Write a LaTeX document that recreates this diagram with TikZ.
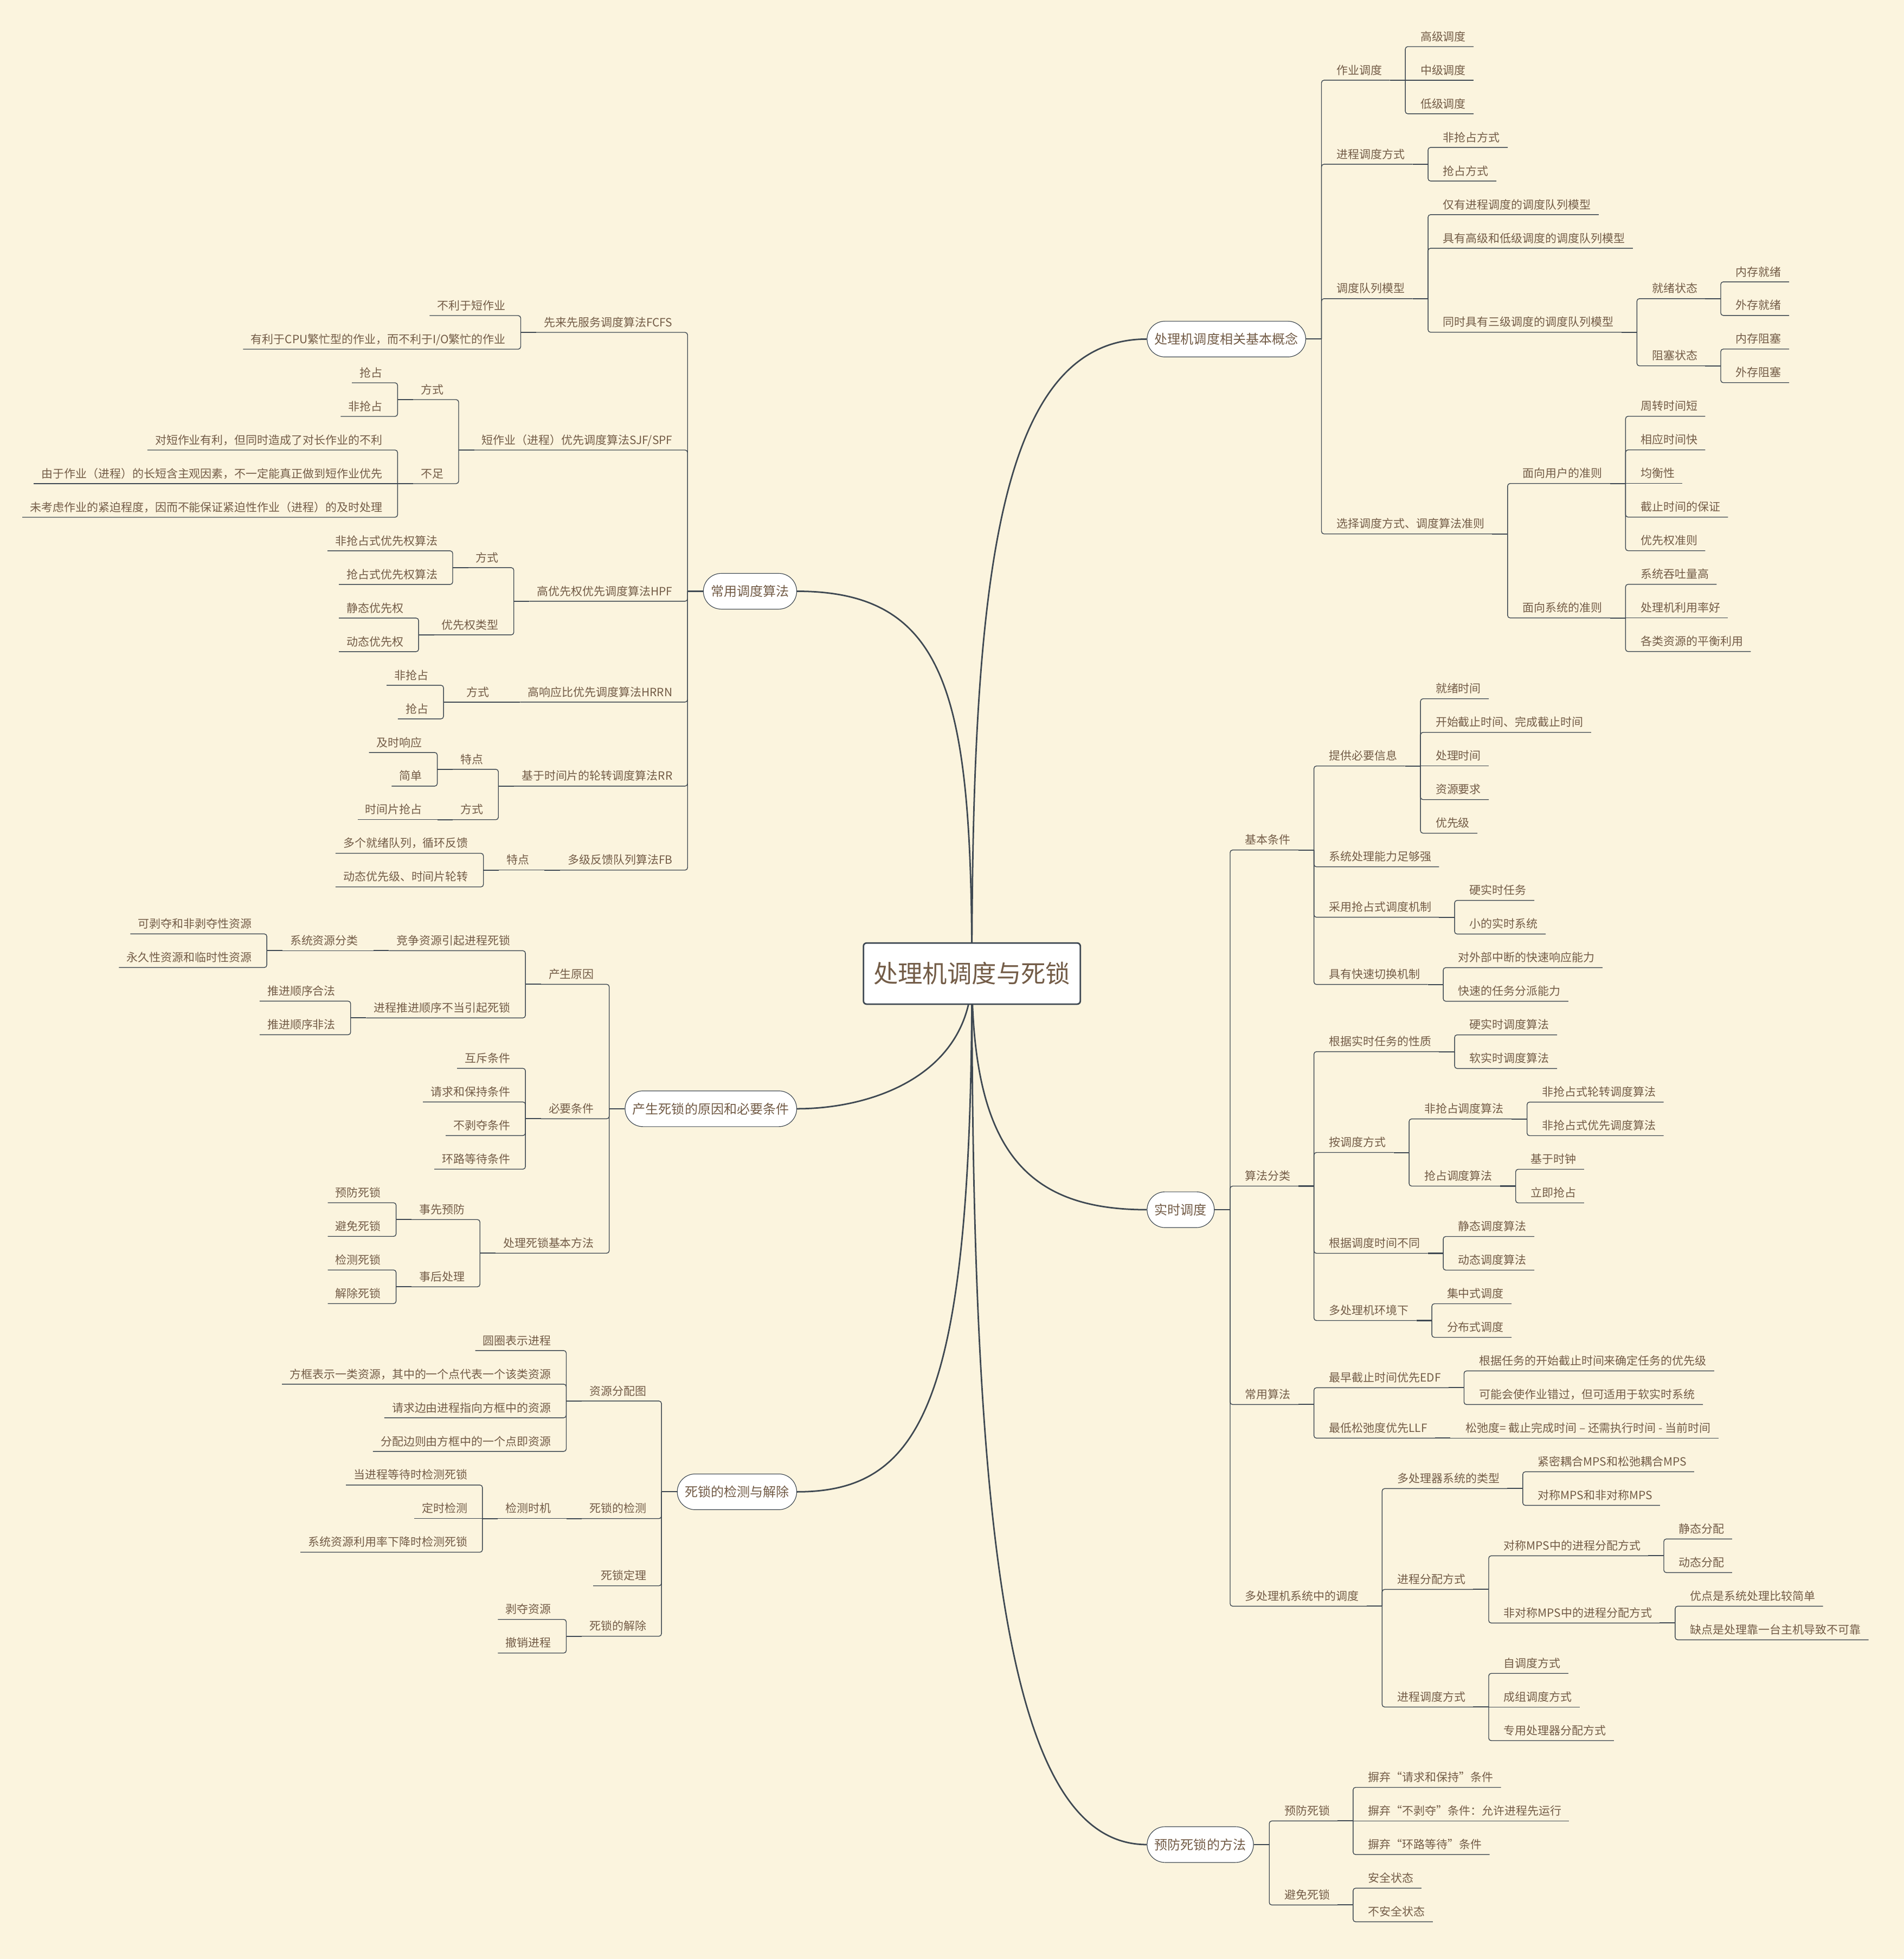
\documentclass[tikz,border=0pt]{standalone}
\usepackage{fontspec}
\newfontfamily\cjk{Noto Sans CJK SC}
\usetikzlibrary{calc}
\definecolor{bgc}{RGB}{251,244,222}
\definecolor{txt}{RGB}{115,92,71}
\definecolor{lin}{RGB}{62,72,82}
\pgfdeclarelayer{bglayer}
\pgfdeclarelayer{edgelayer}
\pgfsetlayers{bglayer,edgelayer,main}
\newcommand\bse{0}
\newcommand\setbase[1]{\renewcommand\bse{#1}}
% right-side topic: name, parent anchor, row, text
\newcommand\rnode[4]{%
  \path let \p1=(#2) in node[tr] (#1) at ({\x1+12.4pt},{-(\bse+26.9*(#3)+8)*1pt}) {#4};
  \draw[stub] (#2) -- (#2 -| #1.south west);
  \draw[conn] (#2 -| #1.south west) |- (#1.south east);}
\newcommand\rnodes[4]{%
  \path let \p1=(#2) in node[tr] (#1) at ({\x1+12.4pt},{-(\bse+26.9*(#3)+8)*1pt}) {#4};
  \draw[stub] (#2) -- (#2 -| #1.south west);
  \draw[conn] (#2 -| #1.south west) -- (#1.south east);}
% left-side topic
\newcommand\lnode[4]{%
  \path let \p1=(#2) in node[tl] (#1) at ({\x1-12.4pt},{-(\bse+26.9*(#3)+8)*1pt}) {#4};
  \draw[stub] (#2) -- (#2 -| #1.south east);
  \draw[conn] (#2 -| #1.south east) |- (#1.south west);}
\newcommand\lnodes[4]{%
  \path let \p1=(#2) in node[tl] (#1) at ({\x1-12.4pt},{-(\bse+26.9*(#3)+8)*1pt}) {#4};
  \draw[stub] (#2) -- (#2 -| #1.south east);
  \draw[conn] (#2 -| #1.south east) -- (#1.south west);}
\tikzset{
  tbase/.style={font=\cjk\fontsize{9.1}{11}\selectfont, text=txt, inner xsep=0pt, inner ysep=4.5pt, text height=7pt, text depth=0pt},
  tr/.style={tbase, anchor=south west, execute at begin node={\hspace*{11.9pt}}, execute at end node={\hspace*{6pt}}},
  tl/.style={tbase, anchor=south east, execute at begin node={\hspace*{6pt}}, execute at end node={\hspace*{11.9pt}}},
  pill/.style={font=\cjk\fontsize{10.45}{12}\selectfont, text=txt, fill=white, draw=lin, line width=0.5pt, rounded corners=14.3pt, minimum height=28.6pt, inner xsep=6pt, inner ysep=0pt, text height=8pt, text depth=0pt},
  rootnode/.style={font=\cjk\fontsize{19.7}{22}\selectfont, text=txt, fill=white, draw=lin, line width=1.2pt, rounded corners=2.5pt, minimum height=48.9pt, inner xsep=8pt, inner ysep=0pt, text height=15pt, text depth=0pt},
  conn/.style={draw=lin, line width=0.6pt, rounded corners=2pt},
  stub/.style={draw=lin, line width=0.9pt},
  mainline/.style={draw=lin, line width=1.2pt}
}
\begin{document}
\begin{tikzpicture}[x=1pt,y=-1pt]
\useasboundingbox (0,0) rectangle (1524,1568);
\begin{pgfonlayer}{bglayer}
\fill[bgc] (0,0) rectangle (1524,1568);
\end{pgfonlayer}

\node[rootnode] (root) at (778,779.25) {处理机调度与死锁};
\node[pill, anchor=west] (pA) at (918,271.4) {处理机调度相关基本概念};
\node[pill, anchor=west] (pB) at (918,968.25) {实时调度};
\node[pill, anchor=west] (pC) at (918,1476.4) {预防死锁的方法};
\node[pill, anchor=east] (pD) at (638,473.25) {常用调度算法};
\node[pill, anchor=east] (pE) at (638,887.45) {产生死锁的原因和必要条件};
\node[pill, anchor=east] (pF) at (638,1194.05) {死锁的检测与解除};

\begin{pgfonlayer}{edgelayer}
\draw[mainline] (root.center) .. controls +(0,-320) and +(-118,0) .. (pA.west);
\draw[mainline] (root.center) .. controls +(0,140) and +(-98,0) .. (pB.west);
\draw[mainline] (root.center) .. controls +(0,470) and +(-108,0) .. (pC.west);
\draw[mainline] (root.center) .. controls +(0,-220) and +(122,0) .. (pD.east);
\draw[mainline] (root.center) .. controls +(0,80) and +(62,0) .. (pE.east);
\draw[mainline] (root.center) .. controls +(0,340) and +(102,0) .. (pF.east);
\end{pgfonlayer}

% ---------- A ----------
\setbase{29.3}
\rnode{a1}{pA.east}{1}{作业调度}
\rnode{a2}{pA.east}{3.5}{进程调度方式}
\rnode{a3}{pA.east}{7.5}{调度队列模型}
\rnode{a4}{pA.east}{14.5}{选择调度方式、调度算法准则}
\rnode{a11}{a1.south east}{0}{高级调度}
\rnodes{a12}{a1.south east}{1}{中级调度}
\rnode{a13}{a1.south east}{2}{低级调度}
\rnode{a21}{a2.south east}{3}{非抢占方式}
\rnode{a22}{a2.south east}{4}{抢占方式}
\rnode{a31}{a3.south east}{5}{仅有进程调度的调度队列模型}
\rnode{a32}{a3.south east}{6}{具有高级和低级调度的调度队列模型}
\rnode{a33}{a3.south east}{8.5}{同时具有三级调度的调度队列模型}
\rnode{a331}{a33.south east}{7.5}{就绪状态}
\rnode{a332}{a33.south east}{9.5}{阻塞状态}
\rnode{a3311}{a331.south east}{7}{内存就绪}
\rnode{a3312}{a331.south east}{8}{外存就绪}
\rnode{a3321}{a332.south east}{9}{内存阻塞}
\rnode{a3322}{a332.south east}{10}{外存阻塞}
\rnode{a41}{a4.south east}{13}{面向用户的准则}
\rnode{a42}{a4.south east}{17}{面向系统的准则}
\rnode{a411}{a41.south east}{11}{周转时间短}
\rnode{a412}{a41.south east}{12}{相应时间快}
\rnodes{a413}{a41.south east}{13}{均衡性}
\rnode{a414}{a41.south east}{14}{截止时间的保证}
\rnode{a415}{a41.south east}{15}{优先权准则}
\rnode{a421}{a42.south east}{16}{系统吞吐量高}
\rnodes{a422}{a42.south east}{17}{处理机利用率好}
\rnode{a423}{a42.south east}{18}{各类资源的平衡利用}

% ---------- B ----------
\setbase{551.3}
\rnode{b1}{pB.east}{4.5}{基本条件}
\rnode{b2}{pB.east}{14.5}{算法分类}
\rnode{b3}{pB.east}{21}{常用算法}
\rnode{b4}{pB.east}{27}{多处理机系统中的调度}
\rnode{b11}{b1.south east}{2}{提供必要信息}
\rnode{b12}{b1.south east}{5}{系统处理能力足够强}
\rnode{b13}{b1.south east}{6.5}{采用抢占式调度机制}
\rnode{b14}{b1.south east}{8.5}{具有快速切换机制}
\rnode{b111}{b11.south east}{0}{就绪时间}
\rnode{b112}{b11.south east}{1}{开始截止时间、完成截止时间}
\rnodes{b113}{b11.south east}{2}{处理时间}
\rnode{b114}{b11.south east}{3}{资源要求}
\rnode{b115}{b11.south east}{4}{优先级}
\rnode{b131}{b13.south east}{6}{硬实时任务}
\rnode{b132}{b13.south east}{7}{小的实时系统}
\rnode{b141}{b14.south east}{8}{对外部中断的快速响应能力}
\rnode{b142}{b14.south east}{9}{快速的任务分派能力}
\rnode{b21}{b2.south east}{10.5}{根据实时任务的性质}
\rnode{b22}{b2.south east}{13.5}{按调度方式}
\rnode{b23}{b2.south east}{16.5}{根据调度时间不同}
\rnode{b24}{b2.south east}{18.5}{多处理机环境下}
\rnode{b211}{b21.south east}{10}{硬实时调度算法}
\rnode{b212}{b21.south east}{11}{软实时调度算法}
\rnode{b221}{b22.south east}{12.5}{非抢占调度算法}
\rnode{b222}{b22.south east}{14.5}{抢占调度算法}
\rnode{b2211}{b221.south east}{12}{非抢占式轮转调度算法}
\rnode{b2212}{b221.south east}{13}{非抢占式优先调度算法}
\rnode{b2221}{b222.south east}{14}{基于时钟}
\rnode{b2222}{b222.south east}{15}{立即抢占}
\rnode{b231}{b23.south east}{16}{静态调度算法}
\rnode{b232}{b23.south east}{17}{动态调度算法}
\rnode{b241}{b24.south east}{18}{集中式调度}
\rnode{b242}{b24.south east}{19}{分布式调度}
\rnode{b31}{b3.south east}{20.5}{最早截止时间优先EDF}
\rnode{b32}{b3.south east}{22}{最低松弛度优先LLF}
\rnode{b311}{b31.south east}{20}{根据任务的开始截止时间来确定任务的优先级}
\rnode{b312}{b31.south east}{21}{可能会使作业错过，但可适用于软实时系统}
\rnodes{b321}{b32.south east}{22}{松弛度= 截止完成时间 – 还需执行时间 - 当前时间}
\rnode{b41}{b4.south east}{23.5}{多处理器系统的类型}
\rnode{b42}{b4.south east}{26.5}{进程分配方式}
\rnode{b43}{b4.south east}{30}{进程调度方式}
\rnode{b411}{b41.south east}{23}{紧密耦合MPS和松弛耦合MPS}
\rnode{b412}{b41.south east}{24}{对称MPS和非对称MPS}
\rnode{b421}{b42.south east}{25.5}{对称MPS中的进程分配方式}
\rnode{b422}{b42.south east}{27.5}{非对称MPS中的进程分配方式}
\rnode{b4211}{b421.south east}{25}{静态分配}
\rnode{b4212}{b421.south east}{26}{动态分配}
\rnode{b4221}{b422.south east}{27}{优点是系统处理比较简单}
\rnode{b4222}{b422.south east}{28}{缺点是处理靠一台主机导致不可靠}
\rnode{b431}{b43.south east}{29}{自调度方式}
\rnodes{b432}{b43.south east}{30}{成组调度方式}
\rnode{b433}{b43.south east}{31}{专用处理器分配方式}

% ---------- C ----------
\setbase{1422.6}
\rnode{c1}{pC.east}{1}{预防死锁}
\rnode{c2}{pC.east}{3.5}{避免死锁}
\rnode{c11}{c1.south east}{0}{摒弃“请求和保持”条件}
\rnodes{c12}{c1.south east}{1}{摒弃“不剥夺”条件：允许进程先运行}
\rnode{c13}{c1.south east}{2}{摒弃“环路等待”条件}
\rnode{c21}{c2.south east}{3}{安全状态}
\rnode{c22}{c2.south east}{4}{不安全状态}

% ---------- D ----------
\setbase{244.6}
\lnode{d1}{pD.west}{0.5}{先来先服务调度算法FCFS}
\lnode{d2}{pD.west}{4}{短作业（进程）优先调度算法SJF/SPF}
\lnode{d3}{pD.west}{8.5}{高优先权优先调度算法HPF}
\lnode{d4}{pD.west}{11.5}{高响应比优先调度算法HRRN}
\lnode{d5}{pD.west}{14}{基于时间片的轮转调度算法RR}
\lnode{d6}{pD.west}{16.5}{多级反馈队列算法FB}
\lnode{d11}{d1.south west}{0}{不利于短作业}
\lnode{d12}{d1.south west}{1}{有利于CPU繁忙型的作业，而不利于I/O繁忙的作业}
\lnode{d21}{d2.south west}{2.5}{方式}
\lnode{d22}{d2.south west}{5}{不足}
\lnode{d211}{d21.south west}{2}{抢占}
\lnode{d212}{d21.south west}{3}{非抢占}
\lnode{d221}{d22.south west}{4}{对短作业有利，但同时造成了对长作业的不利}
\lnodes{d222}{d22.south west}{5}{由于作业（进程）的长短含主观因素，不一定能真正做到短作业优先}
\lnode{d223}{d22.south west}{6}{未考虑作业的紧迫程度，因而不能保证紧迫性作业（进程）的及时处理}
\lnode{d31}{d3.south west}{7.5}{方式}
\lnode{d32}{d3.south west}{9.5}{优先权类型}
\lnode{d311}{d31.south west}{7}{非抢占式优先权算法}
\lnode{d312}{d31.south west}{8}{抢占式优先权算法}
\lnode{d321}{d32.south west}{9}{静态优先权}
\lnode{d322}{d32.south west}{10}{动态优先权}
\lnodes{d41}{d4.south west}{11.5}{方式}
\lnode{d411}{d41.south west}{11}{非抢占}
\lnode{d412}{d41.south west}{12}{抢占}
\lnode{d51}{d5.south west}{13.5}{特点}
\lnode{d52}{d5.south west}{15}{方式}
\lnode{d511}{d51.south west}{13}{及时响应}
\lnode{d512}{d51.south west}{14}{简单}
\lnodes{d521}{d52.south west}{15}{时间片抢占}
\lnodes{d61}{d6.south west}{16.5}{特点}
\lnode{d611}{d61.south west}{16}{多个就绪队列，循环反馈}
\lnode{d612}{d61.south west}{17}{动态优先级、时间片轮转}

% ---------- E ----------
\setbase{739.5}
\lnode{e1}{pE.west}{1.5}{产生原因}
\lnode{e2}{pE.west}{5.5}{必要条件}
\lnode{e3}{pE.west}{9.5}{处理死锁基本方法}
\lnode{e11}{e1.south west}{0.5}{竞争资源引起进程死锁}
\lnode{e12}{e1.south west}{2.5}{进程推进顺序不当引起死锁}
\lnodes{e111}{e11.south west}{0.5}{系统资源分类}
\lnode{e1111}{e111.south west}{0}{可剥夺和非剥夺性资源}
\lnode{e1112}{e111.south west}{1}{永久性资源和临时性资源}
\lnode{e121}{e12.south west}{2}{推进顺序合法}
\lnode{e122}{e12.south west}{3}{推进顺序非法}
\lnode{e21}{e2.south west}{4}{互斥条件}
\lnode{e22}{e2.south west}{5}{请求和保持条件}
\lnode{e23}{e2.south west}{6}{不剥夺条件}
\lnode{e24}{e2.south west}{7}{环路等待条件}
\lnode{e31}{e3.south west}{8.5}{事先预防}
\lnode{e32}{e3.south west}{10.5}{事后处理}
\lnode{e311}{e31.south west}{8}{预防死锁}
\lnode{e312}{e31.south west}{9}{避免死锁}
\lnode{e321}{e32.south west}{10}{检测死锁}
\lnode{e322}{e32.south west}{11}{解除死锁}

% ---------- F ----------
\setbase{1073}
\lnode{f1}{pF.west}{1.5}{资源分配图}
\lnode{f2}{pF.west}{5}{死锁的检测}
\lnode{f3}{pF.west}{7}{死锁定理}
\lnode{f4}{pF.west}{8.5}{死锁的解除}
\lnode{f11}{f1.south west}{0}{圆圈表示进程}
\lnode{f12}{f1.south west}{1}{方框表示一类资源，其中的一个点代表一个该类资源}
\lnode{f13}{f1.south west}{2}{请求边由进程指向方框中的资源}
\lnode{f14}{f1.south west}{3}{分配边则由方框中的一个点即资源}
\lnodes{f21}{f2.south west}{5}{检测时机}
\lnode{f211}{f21.south west}{4}{当进程等待时检测死锁}
\lnodes{f212}{f21.south west}{5}{定时检测}
\lnode{f213}{f21.south west}{6}{系统资源利用率下降时检测死锁}
\lnode{f41}{f4.south west}{8}{剥夺资源}
\lnode{f42}{f4.south west}{9}{撤销进程}
\end{tikzpicture}
\end{document}
